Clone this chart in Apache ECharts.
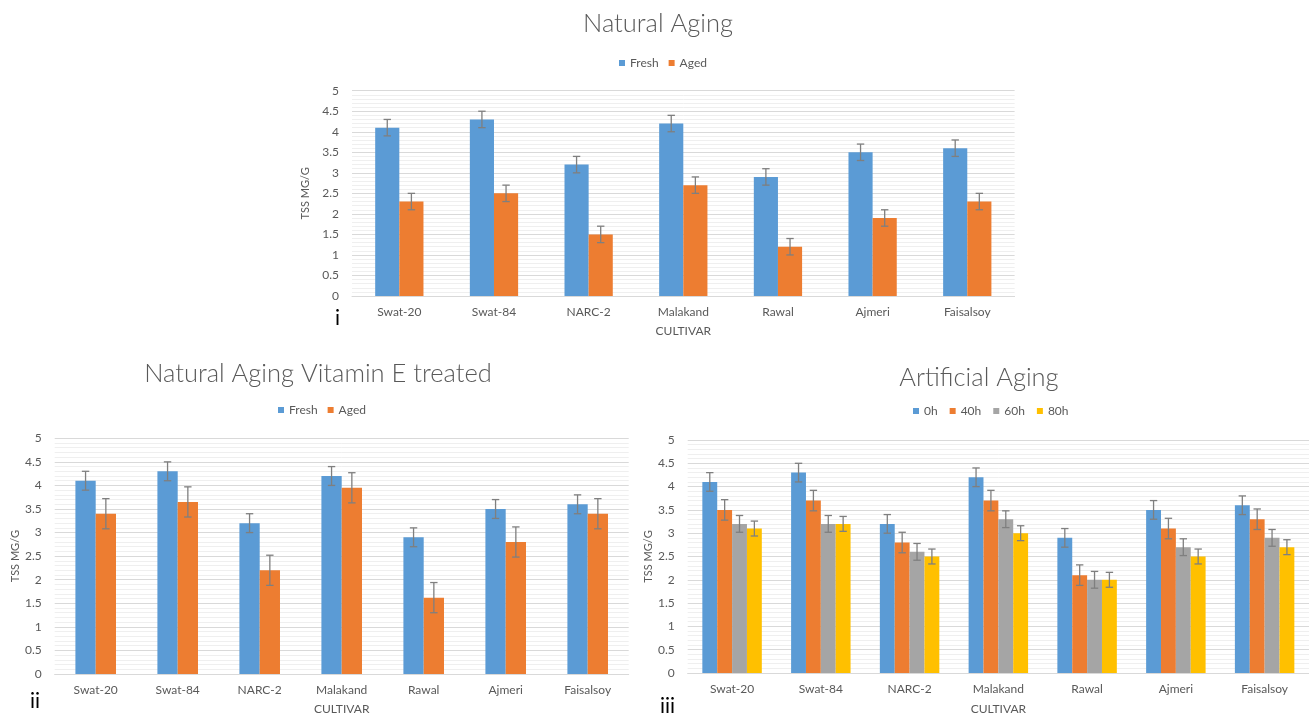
<!DOCTYPE html>
<html>
<head>
<meta charset="utf-8">
<script src="https://cdn.jsdelivr.net/npm/echarts@6/dist/echarts.min.js"></script>
<style>
html,body{margin:0;padding:0;background:#fff;}
#c{width:1309px;height:716px;}
</style>
</head>
<body>
<div id="c"></div>
<script>
// ---- data ----
const cultivars = ['Swat-20','Swat-84','NARC-2','Malakand','Rawal','Ajmeri','Faisalsoy'];

// Panel i: Natural Aging
const naFresh    = [4.1, 4.3, 3.2, 4.2, 2.9, 3.5, 3.6];
const naFreshErr = [0.2, 0.2, 0.2, 0.2, 0.2, 0.2, 0.2];
const naAged     = [2.3, 2.5, 1.5, 2.7, 1.2, 1.9, 2.3];
const naAgedErr  = [0.2, 0.2, 0.2, 0.2, 0.2, 0.2, 0.2];

// Panel ii: Natural Aging Vitamin E treated
const veFresh    = [4.1, 4.3, 3.2, 4.2, 2.9, 3.5, 3.6];
const veFreshErr = [0.2, 0.2, 0.2, 0.2, 0.2, 0.2, 0.2];
const veAged     = [3.4, 3.65, 2.2, 3.95, 1.62, 2.8, 3.4];
const veAgedErr  = [0.32, 0.32, 0.32, 0.32, 0.32, 0.32, 0.32];

// Panel iii: Artificial Aging
const aa0h     = [4.1, 4.3, 3.2, 4.2, 2.9, 3.5, 3.6];
const aa0hErr  = [0.2, 0.2, 0.2, 0.2, 0.2, 0.2, 0.2];
const aa40h    = [3.5, 3.7, 2.8, 3.7, 2.1, 3.1, 3.3];
const aa40hErr = [0.22, 0.22, 0.22, 0.22, 0.22, 0.22, 0.22];
const aa60h    = [3.2, 3.2, 2.6, 3.3, 2.0, 2.7, 2.9];
const aa60hErr = [0.18, 0.18, 0.18, 0.18, 0.18, 0.18, 0.18];
const aa80h    = [3.1, 3.2, 2.5, 3.0, 2.0, 2.5, 2.7];
const aa80hErr = [0.16, 0.16, 0.16, 0.16, 0.16, 0.16, 0.16];

const yMin = 0, yMax = 5, yStep = 0.5;

// ---- styles ----
const FONT = 'Lato, "Liberation Sans", sans-serif';
const TXT = '#595959';
const C_BLUE = '#5B9BD5', C_ORANGE = '#ED7D31', C_GRAY = '#A5A5A5', C_YELLOW = '#FFC000';

const chart = echarts.init(document.getElementById('c'), null, {renderer:'canvas'});

function yAxisDef(gi){
  return {
    gridIndex: gi, type:'value', min:yMin, max:yMax, interval:yStep,
    name:'TSS MG/G', nameLocation:'middle', nameGap:33, nameRotate:90,
    nameTextStyle:{color:TXT, fontSize:11, fontFamily:FONT},
    axisLine:{show:false}, axisTick:{show:false},
    axisLabel:{color:TXT, fontSize:12, fontFamily:FONT, margin:13},
    splitLine:{show:true, lineStyle:{color:'#d9d9d9', width:1.2}},
    minorTick:{show:false, splitNumber:5},
    minorSplitLine:{show:true, lineStyle:{color:'#efefef', width:1}}
  };
}
function xAxisDef(gi, gap){
  return {
    gridIndex: gi, type:'category', data:cultivars,
    name:'CULTIVAR', nameLocation:'middle', nameGap:gap,
    nameTextStyle:{color:TXT, fontSize:12, fontFamily:FONT},
    axisLine:{show:true, lineStyle:{color:'#d9d9d9', width:1}},
    axisTick:{show:false},
    axisLabel:{color:TXT, fontSize:12, fontFamily:FONT, margin:10, interval:0}
  };
}
function barSeries(name, data, color, gi, gapPct){
  return {
    type:'bar', name:name, data:data, xAxisIndex:gi, yAxisIndex:gi,
    itemStyle:{color:color}, barGap:'0%', barCategoryGap:gapPct+'%',
    emphasis:{disabled:true}, z:2
  };
}
function errSeries(values, errs, gi, idx, n, gapPct){
  const gapFrac = gapPct/100;
  return {
    type:'custom', name:'err'+gi+'_'+idx, xAxisIndex:gi, yAxisIndex:gi,
    data: values.map((v,i)=>[i, v, errs[i]]),
    encode:{x:0, y:1}, z:5, silent:true,
    renderItem:function(params, api){
      const x = api.value(0), y = api.value(1), e = api.value(2);
      const band = api.size([1,0])[0];
      const group = band*(1-gapFrac);
      const bw = group/n;
      const off = -group/2 + bw*(idx+0.5);
      const top = api.coord([x, y+e]);
      const bot = api.coord([x, y-e]);
      const cx = top[0] + off;
      const cap = 3.7;
      const st = {stroke:'#7f7f7f', lineWidth:1.3};
      return {type:'group', children:[
        {type:'line', shape:{x1:cx, y1:top[1], x2:cx, y2:bot[1]}, style:st},
        {type:'line', shape:{x1:cx-cap, y1:top[1], x2:cx+cap, y2:top[1]}, style:st},
        {type:'line', shape:{x1:cx-cap, y1:bot[1], x2:cx+cap, y2:bot[1]}, style:st}
      ]};
    }
  };
}

const G1 = 49, G2 = 50.5, G3 = 33;

const legendBase = {
  icon:'rect', itemWidth:6, itemHeight:6, itemGap:10, orient:'horizontal', padding:0,
  textStyle:{color:TXT, fontSize:12, fontFamily:FONT}, selectedMode:false
};
const titleStyle = {color:TXT, fontSize:25.5, fontWeight:300, fontFamily:FONT};

const option = {
  animation:false,
  backgroundColor:'#ffffff',
  title:[
    {text:'Natural Aging', left:658, top:11, padding:0, textAlign:'center', textStyle:titleStyle},
    {text:'Natural Aging Vitamin E treated', left:318, top:361, padding:0, textAlign:'center', textStyle:titleStyle},
    {text:'Artificial Aging', left:979, top:365, padding:0, textAlign:'center', textStyle:titleStyle}
  ],
  legend:[
    Object.assign({}, legendBase, {data:['Fresh','Aged'], left:619, top:57}),
    Object.assign({}, legendBase, {data:['Fresh','Aged'], left:278, top:404}),
    Object.assign({}, legendBase, {data:['0h','40h','60h','80h'], left:913, top:405, itemGap:12})
  ],
  grid:[
    {left:352, top:90.7, width:662.6, height:205.3, containLabel:false},
    {left:54.7, top:438.3, width:574, height:237, containLabel:false},
    {left:687.7, top:440, width:632.3, height:235, containLabel:false}
  ],
  xAxis:[xAxisDef(0,29), xAxisDef(1,29), xAxisDef(2,30)],
  yAxis:[yAxisDef(0), yAxisDef(1), yAxisDef(2)],
  series:[
    barSeries('Fresh', naFresh, C_BLUE, 0, G1),
    barSeries('Aged', naAged, C_ORANGE, 0, G1),
    errSeries(naFresh, naFreshErr, 0, 0, 2, G1),
    errSeries(naAged, naAgedErr, 0, 1, 2, G1),

    barSeries('Fresh', veFresh, C_BLUE, 1, G2),
    barSeries('Aged', veAged, C_ORANGE, 1, G2),
    errSeries(veFresh, veFreshErr, 1, 0, 2, G2),
    errSeries(veAged, veAgedErr, 1, 1, 2, G2),

    barSeries('0h', aa0h, C_BLUE, 2, G3),
    barSeries('40h', aa40h, C_ORANGE, 2, G3),
    barSeries('60h', aa60h, C_GRAY, 2, G3),
    barSeries('80h', aa80h, C_YELLOW, 2, G3),
    errSeries(aa0h, aa0hErr, 2, 0, 4, G3),
    errSeries(aa40h, aa40hErr, 2, 1, 4, G3),
    errSeries(aa60h, aa60hErr, 2, 2, 4, G3),
    errSeries(aa80h, aa80hErr, 2, 3, 4, G3)
  ],
  graphic:[
    {type:'text', left:335, top:308, style:{text:'i', fill:'#000', fontSize:21, fontFamily:FONT}},
    {type:'text', left:30, top:691, style:{text:'ii', fill:'#000', fontSize:21, fontFamily:FONT}},
    {type:'text', left:660, top:696, style:{text:'iii', fill:'#000', fontSize:21, fontFamily:FONT}}
  ]
};
chart.setOption(option);
</script>
</body>
</html>
